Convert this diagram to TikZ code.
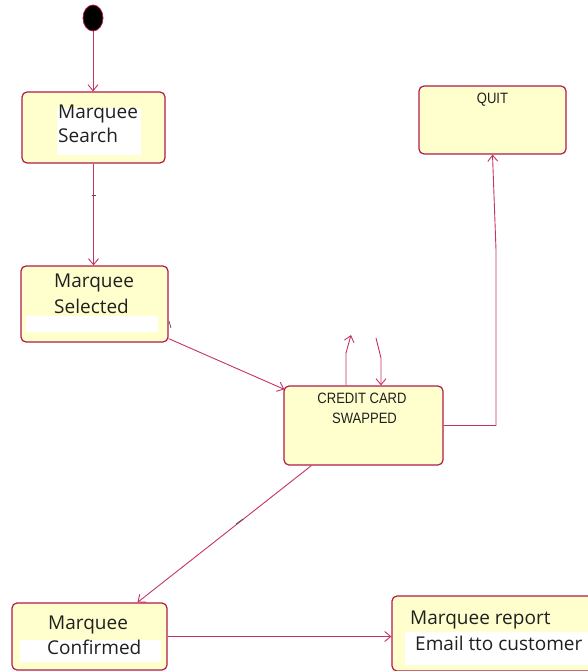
\documentclass[tikz,border=0pt]{standalone}
\usepackage{fontspec}
\setmainfont{Open Sans}
\newfontfamily\narrowfont[FakeStretch=0.87]{Liberation Sans}
\usetikzlibrary{arrows.meta,calc,shapes.geometric}
\definecolor{statefill}{RGB}{255,255,206}
\definecolor{stateline}{RGB}{178,26,72}
\definecolor{flowline}{RGB}{196,52,96}
\definecolor{inkgray}{RGB}{32,32,32}
\begin{document}
\begin{tikzpicture}[x=1pt,y=-1pt,
  statebox/.style={draw=stateline, fill=statefill, line width=1.2pt,
    rounded corners=5pt, inner sep=0pt},
  flow/.style={draw=flowline, line width=0.9pt,
    -{Straight Barb[length=6pt,width=10pt]}},
  lbl/.style={anchor=base west, inner sep=0pt, text=inkgray,
    font=\fontsize{19}{22}\selectfont},
  caps/.style={anchor=base, inner sep=0pt, text=inkgray,
    font=\narrowfont\fontsize{15}{18}\selectfont},
  tick/.style={draw=inkgray!80, line width=0.7pt}]
\useasboundingbox (0,0) rectangle (588,671);
\clip (0,0) rectangle (588,671);

% initial pseudo-state
\node[ellipse, draw=stateline, fill=black, line width=0.8pt,
  minimum width=20pt, minimum height=26pt, inner sep=0pt] (start) at (93,18) {};

% states
\node[statebox, minimum width=143pt, minimum height=71pt] (search)    at (93.5,127.5) {};
\node[statebox, minimum width=147pt, minimum height=76pt] (selected)  at (94.5,304)   {};
\node[statebox, minimum width=159pt, minimum height=79pt] (credit)    at (363.5,425.5) {};
\node[statebox, minimum width=147pt, minimum height=68pt] (quit)      at (492.5,120)  {};
\node[statebox, minimum width=155pt, minimum height=67pt] (confirmed) at (89.5,636.5) {};
\node[statebox, minimum width=248pt, minimum height=75pt] (report)    at (516,633.5)  {};

% white backings behind the labels
\fill[white] (57,108) rectangle (141,155);
\fill[white] (26,316) rectangle (158,332);
\fill[white] (20,640) rectangle (161,662);
\fill[white] (405,632) rectangle (588,665);

% labels
\node[lbl] (searchA) at (58,119) {Marquee};
\node[lbl] (searchB) at (58,143) {Search};
\node[lbl] (selA)    at (54,287) {Marquee};
\node[lbl] (selB)    at (54,313) {Selected};
\node[lbl] (confA)   at (48,629) {Marquee};
\node[lbl] (confB)   at (47,654) {Confirmed};
\node[lbl] (repA)    at (410,624) {Marquee report};
\node[lbl] (repB)    at (415,650) {Email tto customer};
\node[caps] (credA)  at (362,403) {CREDIT CARD};
\node[caps] (credB)  at (364.5,423) {SWAPPED};
\node[caps] (quitA)  at (492.5,104) {QUIT};

% bend and loop points
\coordinate (bendA) at (496,425.5);
\coordinate (bendB) at (496,250);
\coordinate (loopA) at (346,353);
\coordinate (loopAtip) at (351,335);
\coordinate (loopB) at (376,338);
\coordinate (loopBmid) at (381,358);

% transitions
\draw[flow] (start.south) -- (start.south |- search.north);
\draw[flow] (search.south) -- (search.south |- selected.north);
\draw[flow] ($(selected.south east)+(0,-4)$) -- ($(credit.north west)+(1,4)$);
\draw[flow] ($(credit.south west)+(28,0)$) -- ($(confirmed.north)+(48,0)$);
\draw[flow] (confirmed.east) -- (confirmed.east -| report.west);
\draw[flow] (credit.east) -- (bendA) -- (bendB) -- (quit.south);
\draw[flow] ($(credit.north)+(-17.5,0)$) -- (loopA) -- (loopAtip);
\draw[flow] (loopB) -- (loopBmid) -- ($(credit.north)+(17.5,0)$);

% small marks on the transitions
\draw[tick] (92,195) -- (96,195);
\draw[tick] (169,321) -- (171,328);
\draw[tick] (236,524) -- (243,519);
\end{tikzpicture}
\end{document}
